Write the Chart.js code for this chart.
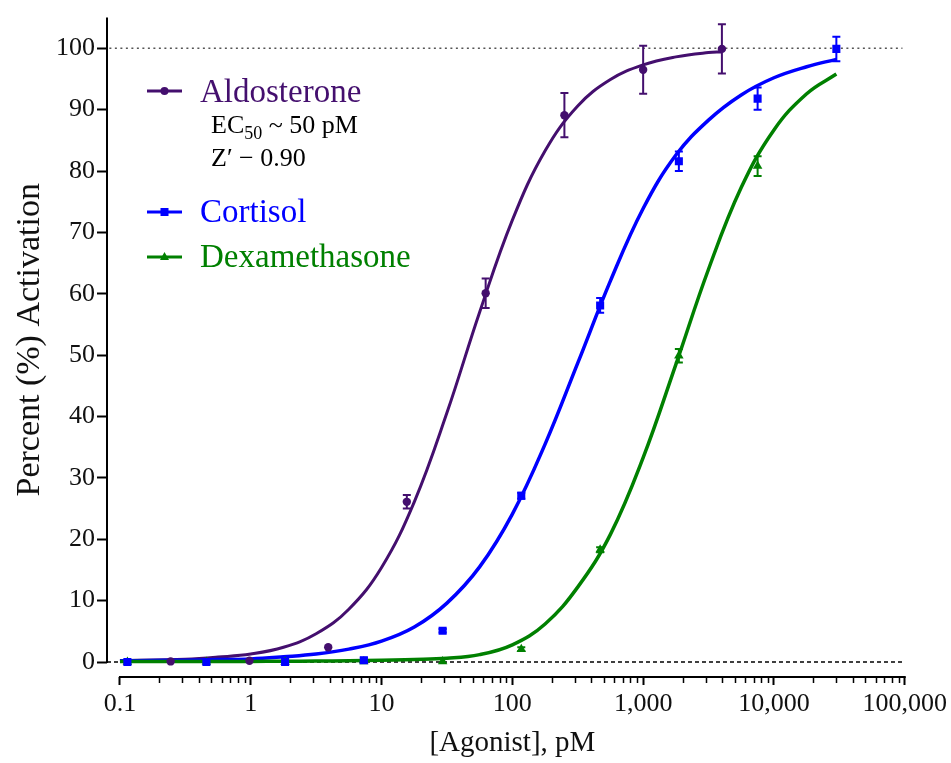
<!DOCTYPE html>
<html>
<head>
<meta charset="utf-8">
<script src="https://cdn.jsdelivr.net/npm/chart.js@4.4.1/dist/chart.umd.min.js"></script>
<style>
  html, body { margin: 0; padding: 0; background: #fff; }
</style>
</head>
<body>
<canvas id="doseChart" width="951" height="763"></canvas>
<script>
// measured points (mean, SEM)
const aldoDose = [0.244, 0.977, 3.91, 15.6, 62.5, 250, 1000, 4000];
const aldoPct  = [0.1, 0.2, 2.4, 26.1, 60.1, 89.1, 96.5, 99.9];
const aldoErr  = [0, 0, 0, 1.1, 2.4, 3.6, 3.9, 4.0];

const cortDose = [0.114, 0.458, 1.83, 7.32, 29.3, 117, 469, 1875, 7500, 30000];
const cortPct  = [0.0, 0.0, 0.0, 0.3, 5.1, 27.1, 58.1, 81.6, 91.8, 99.9];
const cortErr  = [0, 0, 0, 0.4, 0.3, 0.5, 1.2, 1.6, 1.8, 2.0];

const dexDose = [0.114, 0.458, 1.83, 7.32, 29.3, 117, 469, 1875, 7500];
const dexPct  = [0.0, 0.0, 0.0, 0.1, 0.1, 2.1, 18.3, 49.9, 80.8];
const dexErr  = [0, 0, 0, 0, 0, 0.3, 0.4, 1.1, 1.6];

// fitted curves at quarter-decade steps
const fitDose = [0.1, 0.178, 0.316, 0.562, 1, 1.78, 3.16, 5.62, 10, 17.8, 31.6, 56.2,
                 100, 178, 316, 562, 1000, 1780, 3160, 5620, 10000, 17800, 30000];
const aldoFit = [0.2, 0.35, 0.45, 0.8, 1.3, 2.4, 4.6, 8.6, 15.4, 26.1, 40.6, 57.0,
                 72.0, 83.3, 90.6, 94.9, 97.3, 98.6, 99.3];
const cortFit = [0.2, 0.25, 0.3, 0.4, 0.5, 0.85, 1.3, 2.1, 3.4, 5.7, 9.6, 15.5,
                 24.1, 35.5, 48.7, 62.1, 73.9, 82.6, 88.3, 92.4, 95.2, 97.0, 98.2];
const dexFit  = [0.1, 0.1, 0.1, 0.1, 0.1, 0.12, 0.15, 0.2, 0.3, 0.4, 0.6, 1.2,
                 2.8, 6.2, 12.2, 20.8, 33.3, 48.5, 64.0, 77.3, 86.7, 92.6, 95.8];
const aldoFitEnd = { x: 4000, y: 99.4 };

const xTicks = [0.1, 1, 10, 100, 1000, 10000, 100000];
const yTicks = [0, 10, 20, 30, 40, 50, 60, 70, 80, 90, 100];

const X_MIN = 0.0796, X_MAX = 100000;
const Y_MIN = -2.44, Y_MAX = 105;

const PURPLE = '#440f6e';
const BLUE = '#0000ff';
const GREEN = '#008000';
const SERIF = '"Liberation Serif", "Times New Roman", serif';

function pts(xs, ys) {
  return ys.map((y, i) => ({ x: xs[i], y: y }));
}

function drawMarker(ctx, style, x, y, color) {
  ctx.fillStyle = color;
  ctx.beginPath();
  if (style === 'circle') {
    ctx.arc(x, y, 4, 0, Math.PI * 2);
  } else if (style === 'rect') {
    ctx.rect(x - 4, y - 4, 8, 8);
  } else {
    ctx.moveTo(x, y - 5);
    ctx.lineTo(x + 4.5, y + 3);
    ctx.lineTo(x - 4.5, y + 3);
    ctx.closePath();
  }
  ctx.fill();
}

const decorations = {
  id: 'decorations',
  afterDatasetsDraw(chart) {
    const ctx = chart.ctx, xs = chart.scales.x, ys = chart.scales.y;
    chart.data.datasets.forEach(ds => {
      if (!ds.errors) return;
      ctx.save();
      ctx.strokeStyle = ds.borderColor;
      ctx.lineWidth = 2;
      ds.data.forEach((p, j) => {
        const e = ds.errors[j];
        if (!e) return;
        const px = xs.getPixelForValue(p.x);
        const top = ys.getPixelForValue(p.y + e);
        const bot = ys.getPixelForValue(p.y - e);
        ctx.beginPath();
        ctx.moveTo(px, top); ctx.lineTo(px, bot);
        ctx.moveTo(px - 4, top); ctx.lineTo(px + 4, top);
        ctx.moveTo(px - 4, bot); ctx.lineTo(px + 4, bot);
        ctx.stroke();
      });
      ctx.restore();
    });
  },
  afterDraw(chart) {
    const ctx = chart.ctx, xs = chart.scales.x, ys = chart.scales.y;
    const area = chart.chartArea;
    const y0 = ys.getPixelForValue(0);
    const xa = xs.getPixelForValue(0.1), xb = xs.getPixelForValue(100000);
    ctx.save();
    ctx.strokeStyle = '#000';
    ctx.lineWidth = 2;
    // axis lines (GraphPad style, detached)
    ctx.beginPath();
    ctx.moveTo(area.left, y0 + 1);
    ctx.lineTo(area.left, area.top);
    ctx.moveTo(xa - 1, area.bottom);
    ctx.lineTo(xb + 1, area.bottom);
    ctx.stroke();
    // minor ticks
    ctx.lineWidth = 1.5;
    ctx.beginPath();
    for (let d = -1; d < 5; d++) {
      for (let k = 2; k < 10; k++) {
        const px = Math.round(xs.getPixelForValue(k * Math.pow(10, d))) + 0.5;
        ctx.moveTo(px, area.bottom);
        ctx.lineTo(px, area.bottom + 6);
      }
    }
    ctx.stroke();

    // axis titles, centred on the axis lines
    ctx.fillStyle = '#111';
    ctx.textAlign = 'center';
    ctx.textBaseline = 'middle';
    ctx.font = '29px ' + SERIF;
    ctx.fillText('[Agonist], pM', (xa + xb) / 2, 743);
    ctx.save();
    ctx.translate(30, (y0 + area.top) / 2);
    ctx.rotate(-Math.PI / 2);
    ctx.font = '34px ' + SERIF;
    ctx.fillText('Percent (%) Activation', 0, 0);
    ctx.restore();

    // legend
    const entries = [
      { label: 'Aldosterone', color: PURPLE, style: 'circle', ly: 91, by: 102 },
      { label: 'Cortisol', color: BLUE, style: 'rect', ly: 212, by: 222 },
      { label: 'Dexamethasone', color: GREEN, style: 'triangle', ly: 257, by: 267 }
    ];
    ctx.textAlign = 'left';
    ctx.textBaseline = 'alphabetic';
    entries.forEach(e => {
      ctx.strokeStyle = e.color;
      ctx.lineWidth = 3;
      ctx.beginPath();
      ctx.moveTo(147, e.ly); ctx.lineTo(182, e.ly);
      ctx.stroke();
      drawMarker(ctx, e.style, 164.5, e.ly, e.color);
      ctx.fillStyle = e.color;
      ctx.font = '33px ' + SERIF;
      ctx.fillText(e.label, 200, e.by);
    });
    ctx.fillStyle = '#000';
    ctx.font = '26px ' + SERIF;
    ctx.fillText('EC', 211, 133);
    let w = ctx.measureText('EC').width;
    ctx.font = '18px ' + SERIF;
    ctx.fillText('50', 211 + w, 139);
    w += ctx.measureText('50').width;
    ctx.font = '26px ' + SERIF;
    ctx.fillText(' ~ 50 pM', 211 + w, 133);
    ctx.fillText('Z\u2032 \u2212 0.90', 211, 166);
    ctx.restore();
  }
};

const ctx = document.getElementById('doseChart').getContext('2d');
const curve = { type: 'line', pointRadius: 0, tension: 0.4, fill: false };
new Chart(ctx, {
  type: 'scatter',
  data: {
    datasets: [
      { label: 'Aldosterone', data: pts(aldoDose, aldoPct), errors: aldoErr,
        backgroundColor: PURPLE, borderColor: PURPLE, pointStyle: 'circle', pointRadius: 4.2, pointBorderWidth: 0 },
      { label: 'Cortisol', data: pts(cortDose, cortPct), errors: cortErr,
        backgroundColor: BLUE, borderColor: BLUE, pointStyle: 'rect', pointRadius: 5.7, pointBorderWidth: 0 },
      { label: 'Dexamethasone', data: pts(dexDose, dexPct), errors: dexErr,
        backgroundColor: GREEN, borderColor: GREEN, pointStyle: 'triangle', pointRadius: 5.5, pointBorderWidth: 0 },
      Object.assign({ label: 'Dex fit', data: pts(fitDose, dexFit), borderColor: GREEN, borderWidth: 3.5 }, curve),
      Object.assign({ label: 'Cort fit', data: pts(fitDose, cortFit), borderColor: BLUE, borderWidth: 3.5 }, curve),
      Object.assign({ label: 'Aldo fit', data: pts(fitDose, aldoFit).concat([aldoFitEnd]),
        borderColor: PURPLE, borderWidth: 3 }, curve),
      { label: 'top', type: 'line', data: [{ x: 0.083, y: 100 }, { x: 96000, y: 100 }], borderColor: '#555',
        borderWidth: 1.5, borderDash: [2, 3.5], pointRadius: 0 },
      { label: 'baseline', type: 'line', data: [{ x: X_MIN, y: 0 }, { x: X_MAX, y: 0 }], borderColor: '#000',
        borderWidth: 1.5, borderDash: [4, 3], pointRadius: 0 }
    ]
  },
  options: {
    responsive: false,
    animation: false,
    layout: { padding: { top: 15, right: 45, left: 0, bottom: 0 } },
    plugins: { legend: { display: false }, tooltip: { enabled: false } },
    scales: {
      x: {
        type: 'logarithmic',
        min: X_MIN, max: X_MAX,
        afterBuildTicks: s => { s.ticks = xTicks.map(v => ({ value: v })); },
        afterFit: s => { s.height = 86; },
        border: { display: false },
        grid: { drawOnChartArea: false, drawTicks: true, tickLength: 8, tickWidth: 2, tickColor: '#000' },
        ticks: {
          color: '#111', padding: 4, maxRotation: 0, autoSkip: false,
          font: { family: SERIF, size: 26 },
          callback: v => v < 1 ? String(v) : Number(v).toLocaleString('en-US')
        },
        title: { display: false }
      },
      y: {
        min: Y_MIN, max: Y_MAX,
        afterBuildTicks: s => { s.ticks = yTicks.map(v => ({ value: v })); },
        afterFit: s => { s.width = 107; },
        border: { display: false },
        grid: { drawOnChartArea: false, drawTicks: true, tickLength: 10, tickWidth: 2, tickColor: '#000' },
        ticks: { color: '#111', padding: 2, font: { family: SERIF, size: 26 } },
        title: { display: false }
      }
    }
  },
  plugins: [decorations]
});
</script>
</body>
</html>
